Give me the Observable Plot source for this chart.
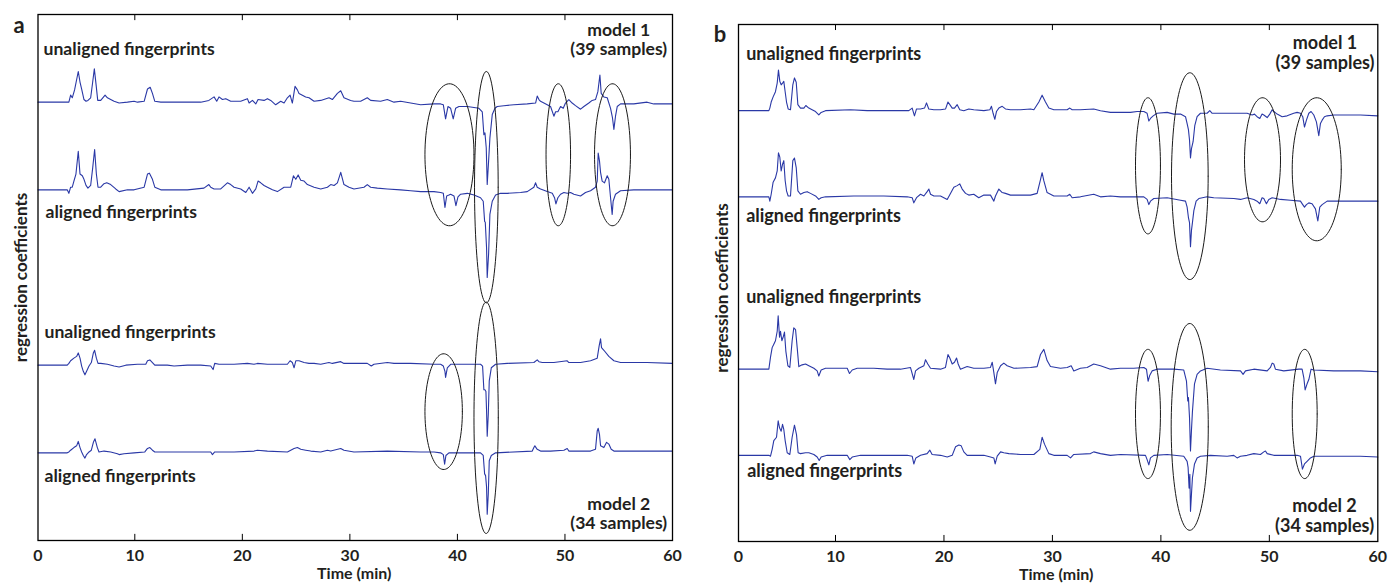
<!DOCTYPE html>
<html><head><meta charset="utf-8">
<script src="https://cdn.jsdelivr.net/npm/d3@7"></script>
<script src="https://cdn.jsdelivr.net/npm/@observablehq/plot@0.6"></script>
<style>
body{margin:0;background:#fff;}
#wrap{position:relative;width:1388px;height:584px;overflow:hidden;background:#fff;}
#pa{position:absolute;left:0;top:0;}
#pb{position:absolute;left:700px;top:0;}
svg{font-family:Lato,"Open Sans",sans-serif;}
</style></head><body><div id="wrap"><div id="pa"></div><div id="pb"></div></div>
<script>
// ---------- data ----------
const xTicks = [0, 10, 20, 30, 40, 50, 60];
const traceNames = ["unaligned model 1", "aligned model 1", "unaligned model 2", "aligned model 2"];
const traceOffsets = [5, 4, 2, 1];

// panel a: [time (min), regression coefficient]
const a1 = [[0,0],[3.19,0],[3.37,0.08],[3.54,0.05],[3.78,0.14],[4.16,0.35],[4.34,0.23],[4.51,0.15],[4.75,0.03],[4.96,0.01],[5.16,0.02],[5.44,0.05],[5.65,0.23],[5.82,0.38],[6.0,0.2],[6.17,0.02],[6.48,0.02],[6.93,0.08],[7.17,0.05],[7.51,0.03],[7.86,0.01],[8.38,-0.01],[9.24,0],[9.93,0.01],[10.25,0],[10.87,0.01],[11.18,0.15],[11.43,0.17],[11.64,0.1],[11.86,0.01],[12.42,0],[14.89,0],[16.13,0],[16.89,0.02],[17.37,0.06],[17.62,0.01],[17.83,0.06],[18.15,0.03],[18.46,0.04],[18.92,0.01],[19.85,0.01],[20.47,0.04],[20.63,-0.01],[20.94,0.02],[21.25,-0.02],[21.46,0.03],[22.02,0.02],[22.33,0.04],[22.64,0.02],[23.1,-0.03],[23.57,0.01],[23.88,-0.01],[24.19,0.05],[24.44,0.08],[24.65,-0.01],[24.9,0.18],[25.12,0.14],[25.27,0.1],[25.58,0.08],[25.89,0.06],[26.2,0.05],[26.67,0.01],[27.29,0.02],[28.06,0.05],[28.37,0.03],[28.84,0.1],[29.15,0.13],[29.45,0.05],[30.07,0.02],[30.38,0.01],[31.0,0.01],[31.62,0.05],[31.93,0.02],[32.86,0.01],[33.48,0.03],[34.1,0],[34.72,0.01],[35.65,-0.01],[36.58,-0.03],[37.82,-0.02],[38.44,-0.02],[38.69,-0.03],[38.9,-0.19],[39.12,-0.05],[39.37,-0.07],[39.61,-0.19],[39.83,-0.07],[40.14,-0.05],[40.92,-0.05],[41.54,-0.06],[42.0,-0.07],[42.31,-0.11],[42.46,-0.37],[42.56,-0.35],[42.68,-0.52],[42.77,-0.94],[42.9,-0.67],[43.02,-0.41],[43.24,-0.14],[43.49,-0.07],[43.7,-0.05],[44.32,-0.04],[45.25,-0.03],[46.49,-0.02],[47.27,-0.01],[47.42,0.07],[47.58,0.03],[47.73,0.01],[48.04,-0.01],[48.35,-0.03],[48.66,-0.05],[48.97,-0.16],[49.13,-0.11],[49.34,-0.11],[49.59,-0.05],[49.84,-0.07],[50.05,-0.01],[50.36,0.03],[50.67,-0.01],[50.98,-0.04],[51.45,-0.08],[51.76,-0.05],[52.22,-0.01],[52.53,0.02],[52.84,0.03],[53.06,0.12],[53.25,0.31],[53.37,0.1],[53.62,0.06],[53.93,0.05],[54.24,-0.07],[54.42,-0.18],[54.55,-0.31],[54.7,-0.16],[54.86,-0.05],[55.17,-0.02],[56.4,-0.02],[57.64,0],[58.26,-0.02],[60,-0.02]];
const a2 = [[0,0],[3.02,0],[3.19,-0.04],[3.37,0.03],[3.54,0.03],[3.71,0.1],[3.92,0.18],[4.16,0.44],[4.34,0.18],[4.58,0.16],[4.75,0.12],[4.96,0.05],[5.16,0.02],[5.44,0.05],[5.65,0.25],[5.85,0.46],[6.03,0.18],[6.2,0.03],[6.48,0.03],[6.82,0.07],[7.1,0.08],[7.51,0.06],[8.03,0.01],[8.38,-0.02],[9.24,0],[9.93,0],[10.87,0.03],[11.18,0.18],[11.36,0.19],[11.64,0.12],[11.86,0.03],[12.42,0],[14.89,0],[16.43,0.02],[16.89,0.06],[17.06,0.03],[17.37,0.01],[17.99,0.01],[18.61,0.08],[18.92,0.06],[19.23,0.03],[19.85,0.01],[20.32,-0.03],[20.63,0.03],[20.94,-0.04],[21.25,0.01],[21.46,0.1],[21.71,0.08],[22.02,0.05],[22.33,0.03],[22.8,0],[23.26,-0.02],[23.88,0.03],[24.5,0.03],[24.75,0.16],[24.97,0.12],[25.19,0.17],[25.43,0.11],[25.74,0.1],[26.05,0.06],[26.67,0.03],[27.29,0.01],[27.91,0.03],[28.22,0.06],[28.53,0.05],[28.84,0.08],[29.15,0.2],[29.45,0.06],[29.92,0.03],[30.38,0.01],[31.31,0.03],[31.62,0.06],[31.93,0.03],[32.55,0.02],[33.48,0.01],[34.72,0],[35.65,-0.01],[36.58,-0.02],[37.82,-0.02],[38.44,-0.03],[38.69,-0.04],[38.84,-0.2],[39.0,-0.07],[39.21,-0.06],[39.37,-0.05],[39.68,-0.07],[39.86,-0.18],[40.05,-0.08],[40.3,-0.05],[40.92,-0.04],[41.54,-0.06],[42.15,-0.09],[42.4,-0.13],[42.53,-0.36],[42.59,-0.37],[42.71,-0.66],[42.77,-1.0],[42.9,-0.73],[43.02,-0.28],[43.24,-0.13],[43.55,-0.06],[44.01,-0.04],[44.63,-0.04],[45.87,-0.03],[46.49,-0.02],[47.11,0.03],[47.27,0.08],[47.42,0.03],[47.73,0.01],[48.35,-0.02],[48.82,-0.04],[49.03,-0.09],[49.16,-0.16],[49.34,-0.09],[49.59,-0.05],[49.9,-0.03],[50.21,-0.04],[50.52,-0.03],[50.83,-0.05],[51.45,-0.07],[51.91,-0.03],[52.38,-0.01],[52.84,0.03],[53.0,0.1],[53.09,0.42],[53.21,0.33],[53.31,0.2],[53.46,0.1],[53.68,0.08],[53.93,0.16],[54.08,0.12],[54.24,-0.09],[54.39,-0.28],[54.48,-0.13],[54.7,-0.05],[55.17,-0.01],[56.4,0],[58.88,0],[60,0]];
const a3 = [[0,0],[3.02,0],[3.19,0.02],[3.37,0.05],[3.71,0.08],[3.99,0.1],[4.16,0.14],[4.34,0.08],[4.51,-0.01],[4.68,-0.07],[4.85,-0.11],[5.02,-0.07],[5.27,-0.01],[5.51,0.03],[5.72,0.14],[5.85,0.17],[6.03,0.08],[6.2,0.02],[6.48,0.02],[7.17,0.01],[7.86,-0.01],[8.38,-0.02],[9.07,0],[10.25,0.01],[11.02,0.01],[11.18,0.05],[11.4,0.06],[11.64,0.03],[11.86,0],[13.03,0],[13.65,-0.01],[14.89,0],[16.13,0],[17.06,-0.01],[17.28,-0.05],[17.43,0.02],[17.83,0.01],[19.23,0.01],[20.47,0.02],[21.09,0.01],[21.4,0.02],[22.33,0.01],[24.19,0.01],[24.44,0.05],[24.65,0.03],[24.81,-0.03],[24.97,0.05],[25.27,0.05],[25.74,0.03],[26.2,0.02],[26.67,0.02],[27.29,0.01],[28.06,0.03],[28.37,0.02],[29.15,0.04],[29.45,0.02],[30.38,0.02],[31.62,0.02],[31.99,-0.01],[32.24,0.01],[33.48,0.03],[34.1,0.02],[35.65,0.02],[37.82,0.01],[38.44,0.01],[38.69,-0.01],[38.84,-0.07],[38.9,-0.14],[39.06,-0.03],[39.37,0.01],[40.92,0.01],[42.15,0.01],[42.34,-0.01],[42.46,-0.28],[42.56,-0.28],[42.65,-0.3],[42.71,-0.52],[42.77,-0.81],[42.87,-0.56],[42.96,-0.18],[43.15,-0.03],[43.55,0.01],[44.63,0.02],[47.11,0.03],[47.42,0.06],[47.58,0.04],[47.89,0.03],[48.97,0.03],[50.21,0.05],[50.36,0.03],[51.45,0.03],[52.38,0.05],[53.0,0.08],[53.18,0.22],[53.31,0.3],[53.4,0.2],[53.62,0.17],[54.08,0.1],[54.55,0.05],[55.17,0.03],[57.64,0.03],[60,0.02]];
const a4 = [[0,0],[3.02,0],[3.19,0.01],[3.37,0.03],[3.71,0.06],[3.99,0.08],[4.16,0.13],[4.34,0.06],[4.51,0.01],[4.68,-0.03],[4.85,-0.06],[5.02,-0.02],[5.27,0.01],[5.51,0.03],[5.72,0.12],[5.89,0.16],[6.13,0.06],[6.3,0.01],[6.82,0.02],[7.51,0.01],[8.2,-0.01],[8.38,-0.02],[8.89,-0.01],[9.93,0],[10.93,0.01],[11.18,0.05],[11.4,0.06],[11.64,0.03],[11.86,0.01],[13.65,0.01],[16.13,0.01],[17.06,0.01],[17.22,-0.02],[17.43,0.01],[19.23,0.01],[21.09,0.02],[21.4,0.03],[22.33,0.02],[24.19,0.01],[24.81,0.05],[25.12,0.06],[25.43,0.04],[25.89,0.03],[26.36,0.02],[27.29,0.01],[27.91,0.03],[28.22,0.02],[29.15,0.05],[29.45,0.03],[30.38,0.01],[33.48,0.02],[36.58,0.01],[37.82,0.01],[38.44,0],[38.69,-0.02],[38.81,-0.13],[38.93,-0.03],[39.21,0],[42.15,0],[42.4,-0.03],[42.53,-0.24],[42.62,-0.26],[42.71,-0.39],[42.77,-0.7],[42.87,-0.47],[42.96,-0.09],[43.15,-0.03],[43.55,0],[46.96,0.02],[47.11,0.06],[47.2,0.08],[47.42,0.04],[47.73,0.02],[48.66,0.02],[49.9,0.03],[50.21,0.05],[50.36,0.02],[52.38,0.02],[52.84,0.04],[53.0,0.25],[53.09,0.28],[53.21,0.21],[53.31,0.08],[53.62,0.06],[53.87,0.12],[54.08,0.1],[54.3,0.04],[54.55,0.02],[55.17,0.02],[57.64,0.02],[60,0.02]];

// panel b
const b1 = [[0,0],[3.13,0],[3.23,0.03],[3.37,0.1],[3.57,0.16],[3.81,0.22],[3.99,0.32],[4.12,0.47],[4.26,0.34],[4.4,0.3],[4.54,0.32],[4.67,0.34],[4.81,0.22],[4.95,0.1],[5.12,0.02],[5.36,0.01],[5.6,0.3],[5.77,0.38],[5.95,0.33],[6.12,0.07],[6.39,0.03],[6.74,0.03],[6.94,0.06],[7.25,0.03],[7.59,0.01],[7.94,-0.01],[8.28,-0.05],[8.52,-0.02],[8.97,0],[11.38,0.01],[12.92,0],[15.38,0],[16.76,0],[17.07,0.03],[17.28,-0.06],[17.47,0.02],[17.84,0.02],[18.21,0.03],[18.39,0.09],[18.6,0.02],[19.07,0.01],[19.68,0.01],[20.15,0.02],[20.37,0.1],[20.54,0.07],[20.76,0.03],[20.97,0.03],[21.22,0.07],[21.46,0.01],[21.83,0],[22.29,0.02],[22.75,0.01],[23.68,0],[24.23,0.01],[24.38,0.05],[24.53,-0.03],[24.69,-0.1],[24.84,-0.01],[25.06,0.03],[25.37,0.05],[25.67,0.02],[26.13,0.01],[27.06,0.01],[27.98,0.02],[28.29,0.01],[28.75,0.1],[29.05,0.18],[29.36,0.1],[29.67,0.03],[30.13,0.01],[31.36,0.01],[31.6,0.03],[31.82,0.01],[32.58,0.01],[33.81,0.02],[34.43,0],[35.35,-0.02],[37.2,-0.02],[37.81,-0.01],[38.43,-0.01],[38.73,-0.03],[38.89,-0.12],[39.04,-0.09],[39.29,-0.06],[39.65,-0.03],[40.58,-0.02],[41.19,-0.04],[41.81,-0.04],[42.27,-0.07],[42.42,-0.15],[42.54,-0.22],[42.64,-0.34],[42.73,-0.55],[42.82,-0.44],[42.97,-0.36],[43.13,-0.17],[43.34,-0.07],[43.65,-0.03],[44.26,-0.03],[44.51,0],[44.73,-0.03],[45.49,-0.03],[47.95,-0.03],[48.41,-0.05],[48.63,-0.04],[48.87,-0.07],[49.12,-0.09],[49.33,-0.04],[49.49,-0.05],[49.8,-0.08],[50.04,-0.04],[50.26,0.01],[50.41,-0.01],[50.72,-0.04],[51.18,-0.07],[51.64,-0.06],[52.25,-0.03],[52.56,-0.02],[52.87,-0.03],[53.08,-0.07],[53.24,-0.19],[53.42,-0.11],[53.64,-0.03],[53.85,-0.01],[54.1,-0.05],[54.34,-0.13],[54.56,-0.29],[54.71,-0.15],[54.87,-0.11],[55.08,-0.07],[55.33,-0.06],[55.94,-0.05],[58.4,-0.05],[60,-0.06]];
const b2 = [[0,0],[3.13,0],[3.23,-0.05],[3.37,0.03],[3.57,0.17],[3.81,0.22],[3.99,0.3],[4.12,0.51],[4.26,0.46],[4.4,0.3],[4.54,0.38],[4.67,0.42],[4.81,0.19],[4.95,0.07],[5.12,0.01],[5.36,0.01],[5.6,0.42],[5.77,0.45],[5.95,0.34],[6.12,0.07],[6.39,0.03],[6.74,0.05],[7.08,0.06],[7.42,0.04],[7.94,0.01],[8.28,-0.03],[8.52,-0.01],[8.97,0],[11.69,0.01],[14.46,0.01],[16.61,0],[17.07,-0.01],[17.22,-0.07],[17.47,-0.01],[17.84,0.03],[18.15,0.01],[18.45,0.06],[18.61,0.09],[18.76,0.03],[19.07,0.01],[19.68,0.01],[20.3,-0.03],[20.6,0.04],[20.91,0.11],[21.22,0.13],[21.46,0.15],[21.68,0.09],[21.99,0.04],[22.29,0.02],[22.75,0.03],[23.21,-0.01],[23.68,0.02],[24.29,0.02],[24.6,-0.05],[24.75,0.01],[25.06,0.09],[25.37,0.05],[25.67,0.04],[26.13,0.02],[27.98,0.02],[28.59,0.04],[28.9,0.2],[29.05,0.28],[29.2,0.19],[29.51,0.05],[30.13,0.01],[31.36,0.01],[31.6,0.03],[31.82,-0.01],[32.58,0],[33.81,0.03],[34.43,0],[35.35,0.01],[36.27,0],[38.43,0],[38.73,-0.03],[38.89,-0.09],[39.04,-0.05],[39.35,-0.02],[40.58,-0.01],[41.81,-0.04],[42.27,-0.05],[42.42,-0.12],[42.54,-0.24],[42.64,-0.3],[42.73,-0.58],[42.82,-0.39],[42.91,-0.3],[43.04,-0.16],[43.25,-0.05],[43.5,-0.02],[44.26,0],[44.88,-0.01],[46.72,-0.02],[47.34,-0.03],[47.95,-0.01],[48.57,-0.03],[48.87,-0.05],[49.12,-0.08],[49.33,-0.01],[49.49,-0.02],[49.73,-0.08],[49.95,-0.03],[50.26,-0.01],[51.03,-0.03],[51.95,-0.04],[52.87,-0.05],[53.08,-0.09],[53.24,-0.12],[53.42,-0.09],[53.64,-0.07],[53.94,-0.08],[54.25,-0.14],[54.47,-0.28],[54.65,-0.12],[54.87,-0.09],[55.33,-0.05],[56.56,-0.05],[60,-0.05]];
const b3 = [[0,0],[3.13,0],[3.3,0.14],[3.47,0.25],[3.64,0.29],[3.81,0.33],[3.99,0.44],[4.09,0.62],[4.23,0.37],[4.33,0.44],[4.47,0.33],[4.6,0.37],[4.74,0.43],[4.88,0.21],[5.09,0.04],[5.29,0.02],[5.53,0.33],[5.7,0.48],[5.88,0.46],[6.05,0.25],[6.22,0.03],[6.56,0.05],[6.91,0.06],[7.25,0.04],[7.77,0.01],[8.11,-0.02],[8.28,-0.08],[8.52,-0.01],[8.97,0.01],[11.08,0.01],[11.29,-0.05],[11.54,-0.01],[12.0,0.01],[13.53,0.01],[14.76,0],[15.99,0],[16.91,0.02],[17.22,-0.12],[17.38,-0.02],[17.68,0.01],[18.15,0.04],[18.3,0.11],[18.51,0.06],[18.76,0.01],[19.68,0],[20.14,0.02],[20.37,0.17],[20.54,0.13],[20.76,0.06],[20.97,0.08],[21.16,0.13],[21.31,0.06],[21.52,0],[22.14,0.03],[22.75,0.01],[23.68,0.01],[24.29,0.02],[24.45,0.08],[24.6,-0.04],[24.75,-0.17],[24.91,-0.04],[25.22,0.04],[25.52,0.07],[25.83,0.04],[26.45,0.01],[27.98,0.02],[28.59,0.03],[28.9,0.17],[29.21,0.23],[29.51,0.1],[29.82,0.03],[30.74,0.01],[31.36,0.02],[31.73,0.04],[31.97,-0.02],[32.58,0.01],[33.2,0.02],[33.81,0.06],[34.43,0.04],[35.35,0],[36.27,0.01],[37.5,0.01],[38.43,0.02],[38.67,0],[38.82,-0.14],[38.98,-0.07],[39.19,-0.02],[39.65,0],[41.19,0],[42.11,-0.01],[42.36,-0.14],[42.48,-0.37],[42.54,-0.33],[42.64,-0.56],[42.73,-0.95],[42.82,-0.71],[42.91,-0.49],[43.1,-0.17],[43.34,-0.06],[43.65,-0.02],[44.26,0.01],[45.49,-0.01],[47.34,-0.02],[47.58,-0.06],[47.8,-0.02],[48.57,0],[49.8,-0.02],[50.1,0.02],[50.26,0.07],[50.41,0.06],[50.56,0],[51.33,-0.02],[52.72,0],[53.02,0],[53.18,-0.1],[53.3,-0.24],[53.48,-0.17],[53.64,-0.12],[53.85,0],[54.1,-0.01],[55.94,-0.02],[58.4,-0.02],[60,-0.03]];
const b4 = [[0,0],[3.13,0],[3.3,-0.01],[3.47,0.07],[3.64,0.17],[3.92,0.21],[4.09,0.4],[4.23,0.32],[4.4,0.28],[4.54,0.36],[4.67,0.3],[4.81,0.17],[5.02,0.03],[5.29,0.01],[5.53,0.21],[5.77,0.35],[5.98,0.24],[6.15,0.03],[6.39,0.02],[6.91,0.03],[7.25,0.03],[7.77,0.01],[8.11,-0.02],[8.32,-0.06],[8.52,-0.02],[9.14,0],[11.08,0],[11.32,-0.05],[11.54,-0.02],[12.31,0],[14.76,0],[16.61,0],[17.07,-0.01],[17.22,-0.1],[17.41,-0.03],[17.84,0],[18.45,0.02],[18.7,0.06],[18.91,0.01],[19.68,0],[20.3,-0.02],[20.76,0],[21.07,0.1],[21.37,0.12],[21.59,0.11],[21.83,0.04],[22.14,0],[23.68,0],[24.29,-0.02],[24.6,-0.03],[24.72,-0.1],[24.91,-0.01],[25.22,0.04],[25.52,0.03],[25.98,0.02],[27.06,0.01],[28.29,0.01],[28.84,0.07],[29.05,0.21],[29.27,0.13],[29.67,0.02],[30.13,0],[31.36,0],[31.67,-0.03],[31.97,0.01],[33.51,0.02],[33.81,0.04],[34.43,0.02],[35.35,0],[36.27,0.01],[38.58,0],[38.73,-0.05],[38.89,-0.11],[39.04,-0.03],[39.35,0],[40.58,0.01],[42.11,-0.01],[42.42,-0.07],[42.51,-0.14],[42.6,-0.38],[42.67,-0.22],[42.73,-0.65],[42.82,-0.45],[42.91,-0.26],[43.1,-0.1],[43.34,-0.03],[43.65,-0.01],[44.57,0],[46.11,-0.01],[46.72,0],[47.03,-0.03],[47.34,-0.01],[47.95,0],[48.57,0.02],[49.18,0.01],[49.49,0.04],[49.64,0.05],[49.8,0.02],[50.41,0],[52.56,0],[52.87,-0.01],[53.05,-0.16],[53.24,-0.1],[53.48,-0.07],[53.79,-0.03],[54.1,-0.01],[55.94,-0.01],[58.4,-0.01],[60,-0.02]];

// highlighted regions: centre time, centre level, half-width (min), half-height
const ellipsesA = [
  {cx: 39.26, cy: 4.40, rx: 2.28, ry: 0.81},
  {cx: 42.69, cy: 4.03, rx: 1.10, ry: 1.32},
  {cx: 49.38, cy: 4.40, rx: 1.14, ry: 0.81},
  {cx: 54.42, cy: 4.40, rx: 1.67, ry: 0.81},
  {cx: 38.72, cy: 1.47, rx: 1.74, ry: 0.66},
  {cx: 42.67, cy: 1.40, rx: 1.13, ry: 1.32}
];
const ellipsesB = [
  {cx: 38.81, cy: 4.36, rx: 1.15, ry: 0.79},
  {cx: 42.67, cy: 4.24, rx: 1.69, ry: 1.20},
  {cx: 49.37, cy: 4.43, rx: 1.66, ry: 0.72},
  {cx: 54.37, cy: 4.32, rx: 2.26, ry: 0.83},
  {cx: 38.81, cy: 1.48, rx: 1.15, ry: 0.75},
  {cx: 42.66, cy: 1.33, rx: 1.71, ry: 1.20},
  {cx: 53.26, cy: 1.48, rx: 1.15, ry: 0.75}
];

const traceLabelsA = [
  {t: 0.57, v: 5.60, text: "unaligned fingerprints"},
  {t: 0.78, v: 3.74, text: "aligned fingerprints"},
  {t: 0.67, v: 2.37, text: "unaligned fingerprints"},
  {t: 0.67, v: 0.73, text: "aligned fingerprints"}
];
const modelLabelsA = [
  {t: 55.0, v: 5.72, text: "model 1\n(39 samples)"},
  {t: 55.0, v: 0.31, text: "model 2\n(34 samples)"}
];
const traceLabelsB = [
  {t: 0.79, v: 5.66, text: "unaligned fingerprints"},
  {t: 0.79, v: 3.78, text: "aligned fingerprints"},
  {t: 0.79, v: 2.83, text: "unaligned fingerprints"},
  {t: 0.90, v: 0.82, text: "aligned fingerprints"}
];
const modelLabelsB = [
  {t: 55.13, v: 5.67, text: "model 1\n(39 samples)"},
  {t: 55.09, v: 0.30, text: "model 2\n(34 samples)"}
];

// ---------- drawing ----------
const BLUE = "#2a38a6";
const INK = "#231f20";

function rows(traces) {
  return traces.flatMap((tr, i) => tr.map(([t, v]) => ({t, v: v + traceOffsets[i], trace: traceNames[i]})));
}
function ellipsePoints(list) {
  const out = [];
  list.forEach((e, k) => {
    for (let i = 0; i <= 90; i++) {
      const a = (i / 90) * 2 * Math.PI;
      out.push({id: k, x: e.cx + e.rx * Math.cos(a), y: e.cy + e.ry * Math.sin(a)});
    }
  });
  return out;
}

function panel(cfg) {
  const bold = {fontWeight: "bold", fill: INK};
  return Plot.plot({
    width: cfg.width, height: cfg.height,
    marginTop: cfg.mt, marginBottom: cfg.mb, marginLeft: cfg.ml, marginRight: cfg.mr,
    style: {fontFamily: "Lato, 'Open Sans', sans-serif", background: "white", overflow: "visible"},
    x: {type: "linear", domain: [0, 10, 60], range: cfg.xRange, axis: null},
    y: {type: "linear", domain: [0, 6], axis: null},
    marks: [
      Plot.line(rows(cfg.traces), {x: "t", y: "v", z: "trace", stroke: BLUE, strokeWidth: 1.1}),
      Plot.line(ellipsePoints(cfg.ellipses), {x: "x", y: "y", z: "id", stroke: "#1a1a1a", strokeWidth: 1, curve: "linear"}),
      Plot.ruleX(xTicks.slice(1, -1), {x: d => d, y1: 0, y2: 0.07, stroke: "#000", strokeWidth: 1}),
      Plot.ruleX(xTicks.slice(1, -1), {x: d => d, y1: 6, y2: 5.93, stroke: "#000", strokeWidth: 1}),
      Plot.frame({stroke: "#000", strokeWidth: 1.3}),
      Plot.text(xTicks, {x: d => d, frameAnchor: "bottom", dy: 15, text: d => String(d), textAnchor: "middle", lineAnchor: "middle", fontSize: 16, ...bold}),
      Plot.text(["Time (min)"], {frameAnchor: "bottom", dy: 33, dx: cfg.xLabDx, textAnchor: "middle", lineAnchor: "middle", fontSize: 16, ...bold}),
      Plot.text(["regression coefficients"], {frameAnchor: "left", dx: -16, dy: cfg.yLabDy, rotate: -90, textAnchor: "middle", lineAnchor: "middle", fontSize: 17, ...bold}),
      Plot.text([cfg.letter], {frameAnchor: "top-left", dx: cfg.letterDx, dy: cfg.letterDy, textAnchor: "middle", lineAnchor: "middle", fontSize: 22, ...bold}),
      Plot.text(cfg.traceLabels, {x: "t", y: "v", text: "text", textAnchor: "start", lineAnchor: "middle", fontSize: cfg.fs, ...bold}),
      Plot.text(cfg.modelLabels, {x: "t", y: "v", text: "text", textAnchor: "middle", lineAnchor: "middle", lineHeight: cfg.lh, fontSize: cfg.fs, ...bold})
    ]
  });
}

document.getElementById("pa").append(panel({
  width: 700, height: 584, mt: 14, mb: 44, ml: 37.5, mr: 28,
  xRange: [37.5, 134.3, 672], traces: [a1, a2, a3, a4], ellipses: ellipsesA,
  traceLabels: traceLabelsA, modelLabels: modelLabelsA,
  letter: "a", letterDx: -19, letterDy: 11, xLabDx: -1, yLabDy: 0, fs: 17.6, lh: 1.1
}));
document.getElementById("pb").append(panel({
  width: 688, height: 584, mt: 24, mb: 43, ml: 38, mr: 10.7,
  xRange: [38, 135, 677.3], traces: [b1, b2, b3, b4], ellipses: ellipsesB,
  traceLabels: traceLabelsB, modelLabels: modelLabelsB,
  letter: "b", letterDx: -18.6, letterDy: 10, xLabDx: -2, yLabDy: 5, fs: 18, lh: 1.1
}));
</script>
</body></html>
